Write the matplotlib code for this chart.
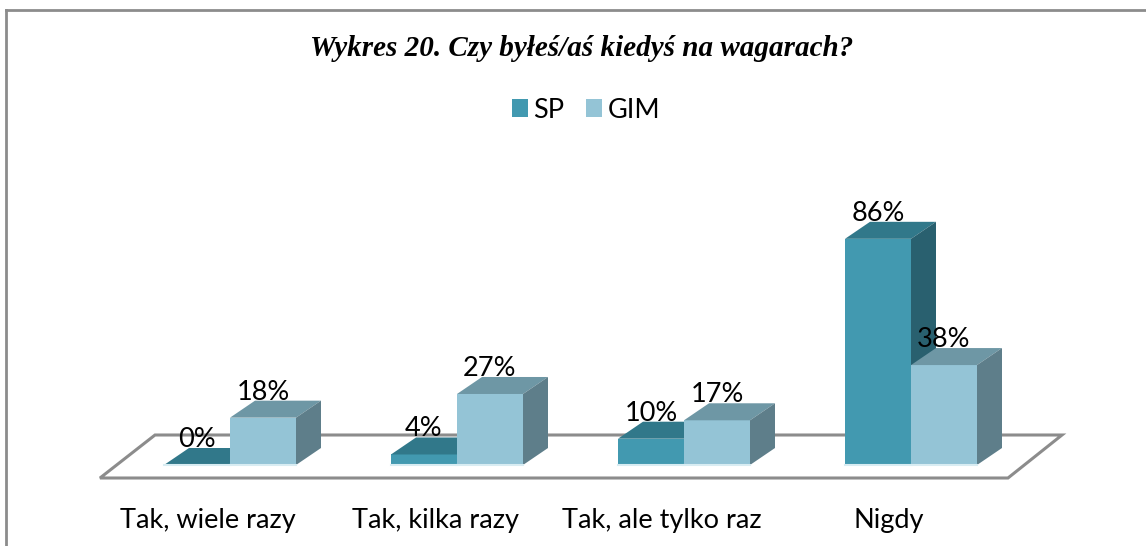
import matplotlib.pyplot as plt
from matplotlib.patches import Polygon
from matplotlib.lines import Line2D
from matplotlib.patches import Patch

kategorie = ["Tak, wiele razy", "Tak, kilka razy", "Tak, ale tylko raz", "Nigdy"]
sp = [0, 4, 10, 86]
gim = [18, 27, 17, 38]
serie = ["SP", "GIM"]

# kolory: przod, gora, bok
kolory_sp = ("#4299B0", "#31788A", "#29606F")
kolory_gim = ("#94C4D6", "#6E97A5", "#5E7E8A")

W, H = 1146, 546
fig = plt.figure(figsize=(W / 100, H / 100), dpi=100)
ax = fig.add_axes([0, 0, 1, 1])
px_x = 227.0   # piksele na kategorie
px_y = 2.63    # piksele na 1%
x0, y0 = 230.0, 465.0
ax.set_xlim(-x0 / px_x, (W - x0) / px_x)
ax.set_ylim(-(H - y0) / px_y, y0 / px_y)
ax.axis("off")

szer = 66 / px_x
dx = 25 / px_x
dy = 17 / px_y

# podloga
podloga = Polygon([(-130 / px_x, -13 / px_y), (-75 / px_x, 30 / px_y),
                   (832 / px_x, 30 / px_y), (778 / px_x, -13 / px_y)],
                  closed=True, facecolor="white", edgecolor="#8C8C8C", lw=2.2, zorder=1)
ax.add_patch(podloga)


def slupek(x, v, kol, z):
    przod, gora, bok = kol
    ax.bar(x, v, width=szer, align="edge", color=przod, zorder=z)
    ax.add_patch(Polygon([(x, v), (x + szer, v), (x + szer + dx, v + dy), (x + dx, v + dy)],
                         closed=True, facecolor=gora, edgecolor="none", zorder=z))
    ax.add_patch(Polygon([(x + szer, 0), (x + szer + dx, dy), (x + szer + dx, v + dy), (x + szer, v)],
                         closed=True, facecolor=bok, edgecolor="none", zorder=z))
    ax.plot([x, x + szer], [0, 0], color="#D8ECF2", lw=1.5, zorder=z + 0.5)
    ax.text(x + szer / 2, v + dy - 1.5, f"{v}%", ha="center", va="bottom",
            fontsize=19.5, family="Lato", color="black", zorder=20)


for i in range(len(kategorie)):
    slupek(i - szer, sp[i], kolory_sp, 3 + i * 2)
    slupek(i, gim[i], kolory_gim, 4 + i * 2)
    ax.text(i - 22 / px_x, -21, kategorie[i], ha="center", va="center",
            fontsize=19.5, family="Lato", color="black")

fig.text(582 / W, 1 - 48 / H, "Wykres 20. Czy byłeś/aś kiedyś na wagarach?", ha="center", va="center",
         fontsize=21, family="Liberation Serif", style="italic", weight="bold")

uchwyty = [Patch(facecolor=kolory_sp[0]), Patch(facecolor=kolory_gim[0])]
fig.legend(uchwyty, serie, loc="center", bbox_to_anchor=(586 / W, 1 - 110 / H), ncol=2,
           frameon=False, handlelength=0.6, handleheight=0.6, handletextpad=0.2,
           columnspacing=0.8, prop={"family": "Lato", "size": 19.5})

# ramka
fig.add_artist(Line2D([6 / W, 6 / W], [0, 1 - 10 / H], transform=fig.transFigure, color="#8C8C8C", lw=2))
fig.add_artist(Line2D([6 / W, 1], [1 - 10 / H, 1 - 10 / H], transform=fig.transFigure, color="#8C8C8C", lw=2))

fig.savefig("out.png", dpi=100, facecolor="white")
